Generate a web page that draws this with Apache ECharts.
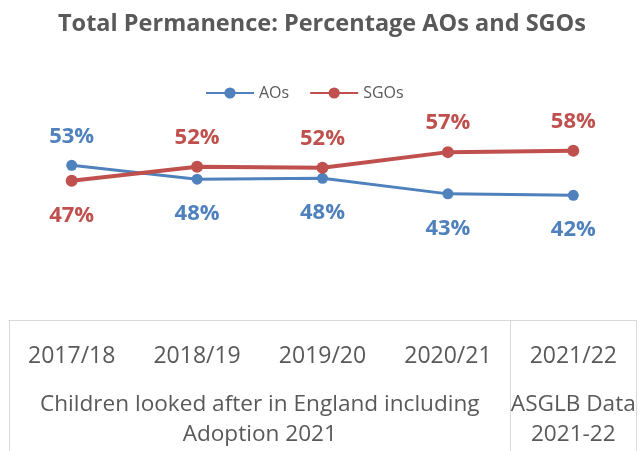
<!DOCTYPE html>
<html>
<head>
<meta charset="utf-8">
<script src="https://cdn.jsdelivr.net/npm/echarts@6/dist/echarts.min.js"></script>
<style>
  html, body { margin: 0; padding: 0; background: #fff; }
  #chart { width: 644px; height: 451px; }
</style>
</head>
<body>
<div id="chart"></div>
<script>
// data
var years = ['2017/18', '2018/19', '2019/20', '2020/21', '2021/22'];
var aos = [52.6, 47.9, 48.2, 42.9, 42.4];
var sgos = [47.4, 52.1, 51.8, 57.1, 57.6];
// label position per point (top / bottom)
var aosLabelPos = ['top', 'bottom', 'bottom', 'bottom', 'bottom'];
var sgosLabelPos = ['bottom', 'top', 'top', 'top', 'top'];
// group rows under the years
var groupLabels = {
	2: 'Children looked after in England including\nAdoption 2021',
	4.5: 'ASGLB Data\n2021-22'
};

var font = 'Open Sans';
var textGrey = '#595959';
var blue = '#4f81bd';
var red = '#c0504d';

function withLabels(values, pos) {
	return values.map(function(v, i) {
		return {
			value: v,
			label: { position: pos[i], distance: pos[i] === 'top' ? 12 : 18 }
		};
	});
}

var dom = document.getElementById('chart');
var myChart = echarts.init(dom);

var option = {
	animation: false,
	title: {
		text: 'Total Permanence: Percentage AOs and SGOs',
		left: 'center',
		top: 7,
		textStyle: {
			fontFamily: font,
			fontSize: 23.5,
			fontWeight: 'bold',
			color: textGrey
		}
	},
	legend: {
		top: 80,
		left: 200,
		itemWidth: 48,
		itemHeight: 14,
		itemGap: 20,
		textStyle: {
			fontFamily: font,
			fontSize: 16,
			color: textGrey
		},
		data: ['AOs', 'SGOs']
	},
	grid: {
		left: 9,
		right: 8,
		top: 26,
		bottom: 131
	},
	xAxis: [{
		type: 'category',
		data: years,
		boundaryGap: true,
		axisLine: {
			lineStyle: { color: '#d9d9d9', width: 1 }
		},
		axisTick: {
			show: true,
			length: 140,
			interval: function(index) {
				return index === 0 || index === 4;
			},
			lineStyle: { color: '#d9d9d9', width: 1 }
		},
		axisLabel: {
			interval: 0,
			margin: 21,
			lineHeight: 30,
			fontFamily: font,
			fontSize: 23,
			color: textGrey
		}
	}, {
		type: 'value',
		position: 'bottom',
		min: 0,
		max: 5,
		interval: 0.5,
		axisLine: { show: false },
		axisTick: { show: false },
		splitLine: { show: false },
		axisLabel: {
			margin: 70,
			lineHeight: 30,
			fontFamily: font,
			fontSize: 22.6,
			color: textGrey,
			formatter: function(v) {
				return groupLabels[v] || '';
			}
		}
	}],
	yAxis: {
		type: 'value',
		min: 0,
		max: 100,
		show: false
	},
	series: [{
		name: 'AOs',
		type: 'line',
		xAxisIndex: 0,
		data: withLabels(aos, aosLabelPos),
		symbol: 'circle',
		symbolSize: 11,
		color: blue,
		lineStyle: { width: 3, color: blue },
		label: {
			show: true,
			fontFamily: font,
			fontSize: 22,
			fontWeight: 'bold',
			color: blue,
			formatter: function(p) {
				return Math.round(p.value) + '%';
			}
		}
	}, {
		name: 'SGOs',
		type: 'line',
		xAxisIndex: 0,
		data: withLabels(sgos, sgosLabelPos),
		symbol: 'circle',
		symbolSize: 12,
		color: red,
		lineStyle: { width: 4, color: red },
		label: {
			show: true,
			fontFamily: font,
			fontSize: 22,
			fontWeight: 'bold',
			color: red,
			formatter: function(p) {
				return Math.round(p.value) + '%';
			}
		}
	}]
};

myChart.setOption(option);
</script>
</body>
</html>
